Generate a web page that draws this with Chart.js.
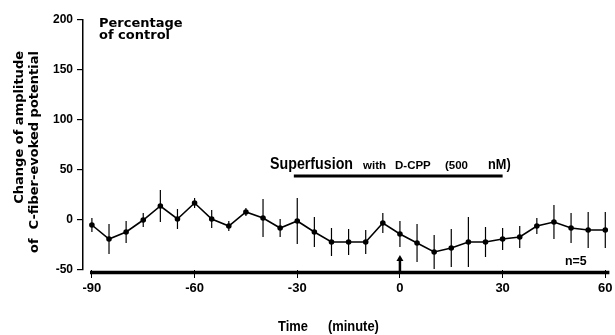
<!DOCTYPE html>
<html>
<head>
<meta charset="utf-8">
<script src="https://cdn.jsdelivr.net/npm/chart.js@4.4.0/dist/chart.umd.min.js"></script>
<style>
html, body { margin: 0; padding: 0; background: #fff; }
#wrap { width: 615px; height: 335px; }
</style>
</head>
<body>
<div id="wrap"><canvas id="chart" width="615" height="335"></canvas></div>
<script>
// time points (minutes), mean % change and error (SEM)
const times = [-90, -85, -80, -75, -70, -65, -60, -55, -50, -45, -40, -35, -30, -25, -20, -15,
    -10, -5, 0, 5, 10, 15, 20, 25, 30, 35, 40, 45, 50, 55, 60];
const meanChange = [-5, -19, -12, 0, 14, 1, 17, 1, -6, 8, 2, -8, -1, -12, -22, -22,
    -22, -3, -14, -23, -32, -28, -22, -22, -19, -17, -6, -2, -8, -10, -10];
const semChange = [7, 15, 11, 7, 16, 10, 5, 9, 5, 4, 19, 9, 23, 15, 14, 13,
    12, 10, 13, 19, 17, 19, 25, 15, 11, 11, 8, 17, 15, 18, 18];
const xTickValues = [-90, -60, -30, 0, 30, 60];
const yTickValues = [-50, 0, 50, 100, 150, 200];
const superfusionTimes = [-31, 30];
const superfusionLevel = [44, 44];
const drugOnset = 0;

function scaledText(ctx, text, x, y, font, sx, align) {
    ctx.save();
    ctx.font = font;
    ctx.textAlign = align || 'left';
    ctx.textBaseline = 'alphabetic';
    ctx.fillStyle = '#000';
    ctx.translate(x, y);
    ctx.scale(sx, 1);
    ctx.fillText(text, 0, 0);
    ctx.restore();
}

function rotatedText(ctx, text, x, y, font) {
    ctx.save();
    ctx.fillStyle = '#000';
    ctx.font = font;
    ctx.textAlign = 'right';
    ctx.textBaseline = 'middle';
    ctx.translate(x, y);
    ctx.rotate(-Math.PI / 2);
    ctx.fillText(text, 0, 0);
    ctx.restore();
}

const decorPlugin = {
    id: 'decor',
    afterDatasetsDraw(chart) {
        const ctx = chart.ctx;
        const xs = chart.scales.x;
        const ys = chart.scales.y;
        const area = chart.chartArea;

        // error bars
        ctx.save();
        ctx.strokeStyle = '#000';
        ctx.lineWidth = 1.2;
        times.forEach(function (t, i) {
            const px = xs.getPixelForValue(t);
            ctx.beginPath();
            ctx.moveTo(px, ys.getPixelForValue(meanChange[i] + semChange[i]));
            ctx.lineTo(px, ys.getPixelForValue(meanChange[i] - semChange[i]));
            ctx.stroke();
        });

        // thick time axis bar
        ctx.lineWidth = 3.5;
        ctx.beginPath();
        ctx.moveTo(area.left + 7, area.bottom + 2.5);
        ctx.lineTo(area.right, area.bottom + 2.5);
        ctx.stroke();

        // arrow at drug onset
        const ax = xs.getPixelForValue(drugOnset);
        ctx.lineWidth = 2.5;
        ctx.beginPath();
        ctx.moveTo(ax, area.bottom + 1);
        ctx.lineTo(ax, ys.getPixelForValue(-41));
        ctx.stroke();
        ctx.fillStyle = '#000';
        ctx.beginPath();
        ctx.moveTo(ax - 3.5, ys.getPixelForValue(-41));
        ctx.lineTo(ax + 3.5, ys.getPixelForValue(-41));
        ctx.lineTo(ax, ys.getPixelForValue(-35));
        ctx.closePath();
        ctx.fill();
        ctx.restore();

        // texts
        scaledText(ctx, 'Percentage', 99, 27, 'bold 13px "DejaVu Sans"', 1, 'left');
        scaledText(ctx, 'of control', 99, 39, 'bold 13px "DejaVu Sans"', 1, 'left');

        scaledText(ctx, 'Superfusion', 270, 169, 'bold 16px "Liberation Sans"', 0.89, 'left');
        scaledText(ctx, 'with', 363, 169, 'bold 11.5px "Liberation Sans"', 1, 'left');
        scaledText(ctx, 'D-CPP', 395, 169, 'bold 11.5px "Liberation Sans"', 1, 'left');
        scaledText(ctx, '(500', 445, 169, 'bold 11.5px "Liberation Sans"', 1, 'left');
        scaledText(ctx, 'nM)', 488, 169, 'bold 15px "Liberation Sans"', 0.85, 'left');

        scaledText(ctx, 'n=5', 565, 265, 'bold 13px "Liberation Sans"', 0.95, 'left');

        scaledText(ctx, 'Time', 278, 331, 'bold 15px "Liberation Sans"', 0.86, 'left');
        scaledText(ctx, '(minute)', 328, 331, 'bold 15px "Liberation Sans"', 0.86, 'left');

        // y axis title, two rotated lines
        rotatedText(ctx, 'Change of amplitude', 20, 51, 'bold 13px "DejaVu Sans"');
        rotatedText(ctx, 'of  C-fiber-evoked potential', 35, 51, 'bold 13px "DejaVu Sans"');
    }
};

const ctx = document.getElementById('chart').getContext('2d');
const meanPoints = times.map(function (t, i) { return { x: t, y: meanChange[i] }; });
const barPoints = superfusionTimes.map(function (t, i) { return { x: t, y: superfusionLevel[i] }; });

new Chart(ctx, {
    type: 'line',
    data: {
        datasets: [{
            data: meanPoints,
            borderColor: '#000',
            borderWidth: 1.6,
            pointRadius: 2,
            pointBackgroundColor: '#000',
            pointBorderColor: '#000',
            tension: 0
        }, {
            data: barPoints,
            borderColor: '#000',
            borderWidth: 3,
            pointRadius: 0,
            tension: 0
        }]
    },
    options: {
        responsive: false,
        animation: false,
        layout: { padding: { top: 20, right: 3, bottom: 0, left: 0 } },
        plugins: { legend: { display: false }, tooltip: { enabled: false } },
        scales: {
            x: {
                type: 'linear',
                min: -92.6,
                max: 61.2,
                afterBuildTicks: function (scale) {
                    scale.ticks = xTickValues.map(function (v) { return { value: v }; });
                },
                afterFit: function (scale) {
                    scale.height = 65;
                    scale.paddingLeft = 0;
                    scale.paddingRight = 0;
                },
                border: { display: false },
                grid: { drawOnChartArea: false, drawTicks: true, tickLength: 8, color: '#000', lineWidth: 1 },
                ticks: {
                    color: '#000',
                    padding: 3,
                    maxRotation: 0,
                    font: { family: 'Liberation Sans', size: 13, weight: 'bold' }
                }
            },
            y: {
                min: -50,
                max: 200,
                afterBuildTicks: function (scale) {
                    scale.ticks = yTickValues.map(function (v) { return { value: v }; });
                },
                afterFit: function (scale) {
                    scale.width = 83;
                    scale.paddingTop = 0;
                    scale.paddingBottom = 0;
                },
                border: { display: true, color: '#000', width: 1.5 },
                grid: { drawOnChartArea: false, drawTicks: true, tickLength: 6, color: '#000', lineWidth: 1.2 },
                ticks: {
                    color: '#000',
                    padding: 4,
                    font: { family: 'Liberation Sans', size: 12, weight: 'bold' }
                }
            }
        }
    },
    plugins: [decorPlugin]
});
</script>
</body>
</html>
